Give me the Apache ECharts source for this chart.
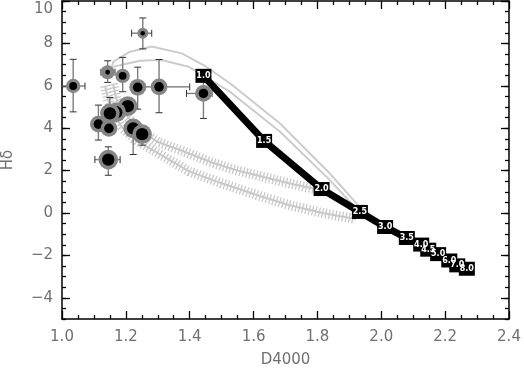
<!DOCTYPE html>
<html><head><meta charset="utf-8">
<script src="https://cdn.jsdelivr.net/npm/echarts@6/dist/echarts.min.js"></script>
<style>html,body{margin:0;padding:0;background:#fff}#c{width:524px;height:369px}</style>
</head><body><div id="c"></div>
<script>
// ---- data ----
const modelLabels = ['1.0','1.5','2.0','2.5','3.0','3.5','4.0','4.5','5.0','6.0','7.0','8.0'];
const modelX = [1.443, 1.633, 1.813, 1.933, 2.012, 2.080, 2.125, 2.147, 2.178, 2.213, 2.238, 2.268];
const modelY = [6.47, 3.40, 1.13, 0.05, -0.66, -1.18, -1.49, -1.73, -1.94, -2.24, -2.47, -2.63];

const thinUpperX = [1.156, 1.161, 1.213, 1.281, 1.375, 1.443, 1.526, 1.683, 1.839, 1.923, 2.012];
const thinUpperY = [6.90, 7.14, 7.61, 7.85, 7.53, 6.98, 6.12, 4.22, 1.86, 0.44, -0.68];
const thinLowerX = [1.161, 1.244, 1.312, 1.396, 1.526, 1.683, 1.839, 1.912, 2.012];
const thinLowerY = [6.90, 7.18, 7.22, 6.90, 5.72, 3.83, 1.55, 0.36, -0.68];

const hatchUpperX = [1.160, 1.170, 1.190, 1.220, 1.260, 1.300, 1.370, 1.470, 1.550, 1.610, 1.710, 1.790];
const hatchUpperY = [6.10, 5.40, 4.80, 4.30, 3.75, 3.35, 2.97, 2.38, 2.00, 1.78, 1.40, 1.14];
const hatchLowerX = [1.135, 1.145, 1.165, 1.190, 1.225, 1.280, 1.400, 1.500, 1.610, 1.710, 1.820, 1.920];
const hatchLowerY = [6.00, 5.30, 4.60, 4.00, 3.50, 3.00, 1.95, 1.40, 0.85, 0.38, -0.01, -0.28];

const obsX    = [1.035, 1.143, 1.253, 1.190, 1.237, 1.304, 1.443, 1.206, 1.170, 1.150, 1.114, 1.147, 1.223, 1.251, 1.145];
const obsY    = [5.99, 6.64, 8.48, 6.47, 5.93, 5.95, 5.64, 5.04, 4.75, 4.70, 4.19, 3.99, 3.99, 3.72, 2.52];
const obsYLo  = [4.77, 6.16, 7.74, 5.72, 4.90, 4.73, 4.46, null, null, null, 3.44, null, 2.76, 3.20, 1.78];
const obsYHi  = [7.25, 7.18, 9.20, 7.34, 6.88, 7.24, 6.70, null, null, 5.45, 5.09, null, null, null, 3.12];
const obsXLo  = [1.000, 1.122, 1.218, null, null, 1.260, 1.390, null, null, null, null, null, null, null, 1.103];
const obsXHi  = [1.072, 1.166, 1.281, null, null, 1.400, 1.470, null, null, null, null, null, null, null, 1.182];
const obsGroup = [2, 1, 0, 2, 3, 3, 3, 4, 4, 4, 3, 3, 4, 4, 4];

const xTicks = [1.0, 1.2, 1.4, 1.6, 1.8, 2.0, 2.2, 2.4];
const yTicks = [-4, -2, 0, 2, 4, 6, 8, 10];

// ---- styles ----
const ringStyle = [
  {R: 5.5, r: 2.3}, {R: 7, r: 2.4}, {R: 7.2, r: 3.9}, {R: 8.4, r: 4.8}, {R: 9.8, r: 6.2}
];
const labelColor = '#707070';
const fontFam = 'DejaVu Sans';
const zip = (a, b) => a.map((v, i) => [v, b[i]]);

const tickStyle = {color: '#000', width: 1.3};
function xAx(pos, showLabel) {
  return {
    type: 'value', min: 1.0, max: 2.4, interval: 0.2, position: pos,
    axisLine: {show: true, onZero: false, lineStyle: {color: '#000', width: 1.5}},
    axisTick: {show: true, inside: true, length: 8, lineStyle: tickStyle},
    minorTick: {show: true, splitNumber: 4, length: 4, lineStyle: tickStyle},
    splitLine: {show: false},
    axisLabel: {show: showLabel, formatter: v => v.toFixed(1), margin: 11, color: labelColor, fontSize: 15, fontFamily: fontFam},
    name: showLabel ? 'D4000' : '', nameLocation: 'middle', nameGap: 34,
    nameTextStyle: {color: labelColor, fontSize: 15, fontFamily: fontFam}
  };
}
function yAxMinor(pos, showLabel) {
  return {
    type: 'value', min: -5, max: 10, interval: 0.5, position: pos,
    axisLine: {show: true, onZero: false, lineStyle: {color: '#000', width: 1.5}},
    axisTick: {show: true, inside: true, length: 4, lineStyle: tickStyle},
    splitLine: {show: false},
    axisLabel: {
      show: showLabel, margin: 9, color: labelColor, fontSize: 15, fontFamily: fontFam,
      formatter: v => {
        const r = Math.round(v);
        if (Math.abs(v - r) > 1e-6 || yTicks.indexOf(r) < 0) return '';
        if (r === 10) return '{t|10}';
        return r < 0 ? '\u2212' + Math.abs(r) : String(r);
      },
      rich: {t: {color: labelColor, fontSize: 15, fontFamily: fontFam, padding: [16, 0, 0, 0]}}
    },
    name: showLabel ? 'H\u03b4' : '', nameLocation: 'middle', nameGap: 46,
    nameTextStyle: {color: labelColor, fontSize: 15, fontFamily: fontFam}
  };
}
function yAxMajor(pos) {
  return {
    type: 'value', min: -5, max: 10, position: pos,
    axisLine: {show: false},
    axisTick: {show: true, inside: true, length: 8, customValues: yTicks, lineStyle: tickStyle},
    splitLine: {show: false},
    axisLabel: {show: false}
  };
}

function errRender(params, api) {
  const i = params.dataIndex;
  const ch = [];
  const bar = {stroke: '#7d7d7d', lineWidth: 1.4};
  const cap = {stroke: '#333', lineWidth: 1};
  const c = api.coord([obsX[i], obsY[i]]);
  const cw = 3.5;
  if (obsYLo[i] != null) {
    const p = api.coord([obsX[i], obsYLo[i]]);
    ch.push({type: 'line', shape: {x1: c[0], y1: c[1], x2: p[0], y2: p[1]}, style: bar});
    ch.push({type: 'line', shape: {x1: p[0] - cw, y1: p[1], x2: p[0] + cw, y2: p[1]}, style: cap});
  }
  if (obsYHi[i] != null) {
    const p = api.coord([obsX[i], obsYHi[i]]);
    ch.push({type: 'line', shape: {x1: c[0], y1: c[1], x2: p[0], y2: p[1]}, style: bar});
    ch.push({type: 'line', shape: {x1: p[0] - cw, y1: p[1], x2: p[0] + cw, y2: p[1]}, style: cap});
  }
  if (obsXLo[i] != null) {
    const p = api.coord([obsXLo[i], obsY[i]]);
    ch.push({type: 'line', shape: {x1: c[0], y1: c[1], x2: p[0], y2: p[1]}, style: bar});
    ch.push({type: 'line', shape: {x1: p[0], y1: p[1] - cw, x2: p[0], y2: p[1] + cw}, style: cap});
  }
  if (obsXHi[i] != null) {
    const p = api.coord([obsXHi[i], obsY[i]]);
    ch.push({type: 'line', shape: {x1: c[0], y1: c[1], x2: p[0], y2: p[1]}, style: bar});
    ch.push({type: 'line', shape: {x1: p[0], y1: p[1] - cw, x2: p[0], y2: p[1] + cw}, style: cap});
  }
  return {type: 'group', children: ch};
}
function ringRender(params, api) {
  const i = params.dataIndex;
  const c = api.coord([api.value(0), api.value(1)]);
  const s = ringStyle[obsGroup[i]];
  return {type: 'group', children: [
    {type: 'circle', shape: {cx: c[0], cy: c[1], r: s.R}, style: {fill: '#858585'}},
    {type: 'circle', shape: {cx: c[0], cy: c[1], r: s.r}, style: {fill: '#000'}}
  ]};
}

const hatchBase = {type: 'line', symbol: 'none', silent: true, z: 2, xAxisIndex: 0, yAxisIndex: 0};
const chart = echarts.init(document.getElementById('c'));
chart.setOption({
  animation: false,
  backgroundColor: '#fff',
  grid: {left: 62, right: 15, top: 1, bottom: 50, containLabel: false, outerBoundsMode: 'none'},
  xAxis: [xAx('bottom', true), xAx('top', false)],
  yAxis: [yAxMinor('left', true), yAxMajor('left'), yAxMinor('right', false), yAxMajor('right')],
  series: [
    Object.assign({}, hatchBase, {data: zip(hatchUpperX, hatchUpperY), lineStyle: {color: '#c9c9c9', width: 10, type: [1.3, 2.1], cap: 'butt'}}),
    Object.assign({}, hatchBase, {data: zip(hatchUpperX, hatchUpperY), lineStyle: {color: '#c9c9c9', width: 2}}),
    Object.assign({}, hatchBase, {data: zip(hatchLowerX, hatchLowerY), lineStyle: {color: '#c9c9c9', width: 10, type: [1.3, 2.1], cap: 'butt'}}),
    Object.assign({}, hatchBase, {data: zip(hatchLowerX, hatchLowerY), lineStyle: {color: '#c9c9c9', width: 2}}),
    Object.assign({}, hatchBase, {data: zip(thinUpperX, thinUpperY), lineStyle: {color: '#cccccc', width: 2}}),
    Object.assign({}, hatchBase, {data: zip(thinLowerX, thinLowerY), lineStyle: {color: '#cccccc', width: 2}}),
    {type: 'custom', silent: true, z: 3, renderItem: errRender, data: zip(obsX, obsY), clip: false},
    {type: 'custom', silent: true, z: 4, renderItem: ringRender, data: zip(obsX, obsY), clip: false},
    {
      type: 'line', silent: true, z: 10, data: zip(modelX, modelY),
      symbol: 'rect', symbolSize: [16, 14], showSymbol: true,
      itemStyle: {color: '#000'}, lineStyle: {color: '#000', width: 7},
      label: {show: true, position: 'inside', formatter: p => modelLabels[p.dataIndex],
        color: '#fff', fontSize: 8, fontWeight: 'bold', fontFamily: fontFam},
      labelLayout: {hideOverlap: false}
    }
  ]
});
</script></body></html>
